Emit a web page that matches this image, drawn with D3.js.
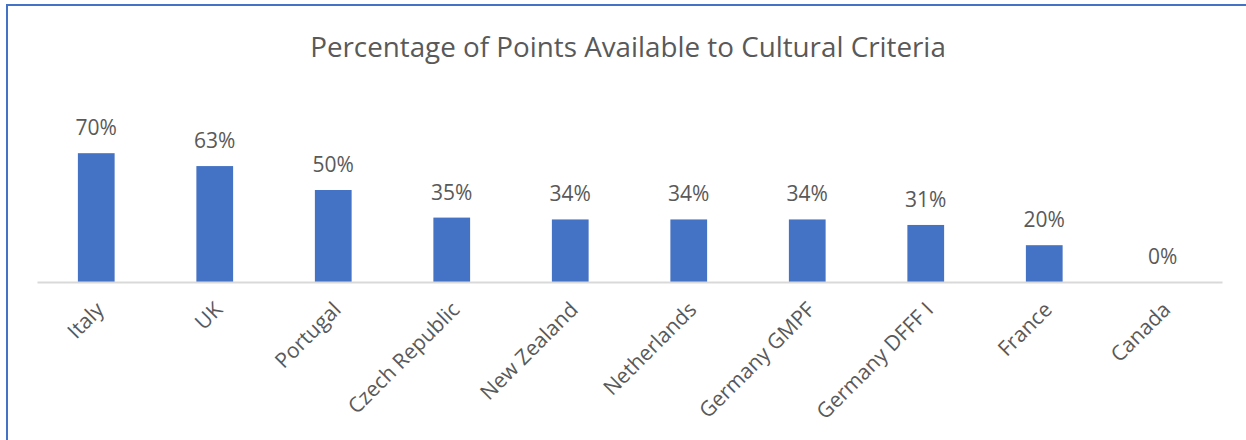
<!DOCTYPE html>
<html>
<head>
<meta charset="utf-8">
<script src="https://cdn.jsdelivr.net/npm/d3@7"></script>
<style>
  body { margin: 0; background: #fff; }
  svg { display: block; }
  text { font-family: "Open Sans", sans-serif; fill: #595959; }
</style>
</head>
<body>
<svg width="1246" height="440"></svg>
<script>
var categories = ["Italy", "UK", "Portugal", "Czech Republic", "New Zealand",
  "Netherlands", "Germany GMPF", "Germany DFFF I", "France", "Canada"];
var values = [0.70, 0.63, 0.50, 0.35, 0.34, 0.34, 0.34, 0.31, 0.20, 0.00];
var title = "Percentage of Points Available to Cultural Criteria";

var svg = d3.select("svg"),
    width = +svg.attr("width"),
    height = +svg.attr("height");

// chart area border (runs off the bottom/right like the original crop)
svg.append("rect")
  .attr("x", 7).attr("y", 5)
  .attr("width", width + 20).attr("height", height + 20)
  .attr("fill", "#fff")
  .attr("stroke", "#4472C4")
  .attr("stroke-width", 2);

var x = d3.scaleBand()
  .domain(categories)
  .range([37, 1222])
  .paddingInner(0.69)
  .paddingOuter(0.345);

var y = d3.scaleLinear()
  .domain([0, 1])
  .range([282, 98]);

// title, sized to the original's width
var t = svg.append("text")
  .attr("x", 628).attr("y", 57)
  .attr("text-anchor", "middle")
  .style("font-size", "26px")
  .text(title);
var tl = t.node().getComputedTextLength();
t.style("font-size", (26 * 636 / tl) + "px");

svg.append("g")
  .selectAll("rect")
  .data(values)
  .enter().append("rect")
    .attr("x", function(d, i) { return x(categories[i]); })
    .attr("y", function(d) { return y(d); })
    .attr("width", x.bandwidth())
    .attr("height", function(d) { return y(0) - y(d); })
    .attr("fill", "#4472C4");

// baseline
var axis = svg.append("g")
  .attr("transform", "translate(0," + y(0) + ")")
  .call(d3.axisBottom(x).tickSize(0).tickFormat(""));
axis.select(".domain").attr("stroke", "#D9D9D9").attr("stroke-width", 2);

svg.append("g")
  .selectAll("text")
  .data(values)
  .enter().append("text")
    .attr("x", function(d, i) { return x(categories[i]) + x.bandwidth() / 2; })
    .attr("y", function(d) { return y(d) - 18; })
    .attr("text-anchor", "middle")
    .style("font-size", "21px")
    .text(function(d) { return d3.format(".0%")(d); });

svg.append("g")
  .selectAll("text")
  .data(categories)
  .enter().append("text")
    .attr("text-anchor", "end")
    .attr("transform", function(d) {
      var cx = x(d) + x.bandwidth() / 2 + 9;
      return "translate(" + cx + "," + (y(0) + 29) + ") rotate(-45)";
    })
    .style("font-size", "21px")
    .text(function(d) { return d; });
</script>
</body>
</html>
